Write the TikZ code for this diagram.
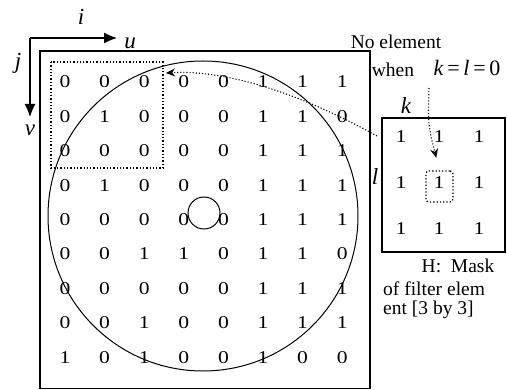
\documentclass[tikz,border=0pt]{standalone}
\usepackage{fontspec}
\setmainfont{Liberation Serif}
\newfontfamily\widedigits[FakeStretch=1.2]{Liberation Serif}
\usetikzlibrary{arrows.meta}
\tikzset{
  cell/.style={font=\widedigits\fontsize{18}{18}\selectfont, inner sep=0pt},
  lbl/.style={font=\fontsize{19.5}{21}\selectfont, inner sep=0pt},
  var/.style={font=\fontsize{23}{23}\selectfont\itshape, inner sep=0pt},
  frame/.style={line width=1.6pt},
  ring/.style={line width=1pt},
  axis/.style={line width=1.2pt,-{Latex[length=13pt,width=11pt]}},
  pointer/.style={dotted,line width=1.1pt,-{Stealth[length=9pt,width=8pt]}},
}
\begin{document}
\begin{tikzpicture}[x=1pt,y=-1pt]
    \useasboundingbox (0,0) rectangle (507,390);
    \draw[frame] (40,51) rectangle (370,388.5);
    \draw[ring] (203,216) circle[radius=155];
    \draw[ring] (204,213) circle[radius=16];
    \coordinate (o) at (30,38);
    \coordinate (uend) at (117,38);
    \coordinate (vend) at (30,117);
    \draw[axis] (o) -- (uend);
    \draw[axis] (o) -- (vend);
    \node[var] (i) at (81,17) {i};
    \node[var] (u) at (130,43) {u};
    \node[var] (j) at (18,63) {j};
    \node[var] (v) at (30,130) {v};
    \foreach \row [count=\r] in {{0,0,0,0,0,1,1,1},{0,1,0,0,0,1,1,0},{0,0,0,0,0,1,1,1},
        {0,1,0,0,0,1,1,1},{0,0,0,0,0,1,1,1},{0,0,1,1,0,1,1,0},{0,0,0,0,0,1,1,1},
        {0,0,1,0,0,1,1,1},{1,0,1,0,0,1,0,0}}
        \foreach \val [count=\c] in \row
            \node[cell] (g-\r-\c) at ({25.4+39.6*\c},{47.6+34.4*\r}) {\val};
    \draw[dotted,line width=1.3pt] (51,62) rectangle (163,168);
    \node[draw,frame,minimum width=123pt,minimum height=134pt] (mask) at (443.5,185) {};
    \foreach \y [count=\r] in {137,183,229}
        \foreach \x [count=\c] in {401,439,479}
            \node[cell] (m-\r-\c) at (\x,\y) {1};
    \node[draw,dotted,line width=1.3pt,rounded corners=3pt,minimum width=27pt,minimum height=31pt]
        (hole) at (439.5,186.5) {};
    \node[var] (k) at (406,106) {k};
    \node[var] (l) at (375,177) {l};
    \node[lbl] (note) at (396,42) {No element};
    \node[lbl] (when) at (393,70) {when};
    \node[lbl,font=\fontsize{22}{22}\selectfont] (cond) at (467,68) {\textit{k}\,=\,\textit{l}\,=\,0};
    \coordinate (src) at (377,136);
    \coordinate (dst) at (166,73);
    \coordinate (from) at (429,88);
    \draw[pointer] (src) .. controls (290,88) and (220,70) .. (dst);
    \draw[pointer,shorten >=13pt] (from) .. controls (428,125) .. (hole.north);
    \node[lbl] (cap1) at (458,266) {H:~~Mask};
    \node[lbl,anchor=west] (cap2) at (383,289) {of filter elem};
    \node[lbl,anchor=west] (cap3) at (383,310) {ent [3 by 3]};
\end{tikzpicture}
\end{document}
